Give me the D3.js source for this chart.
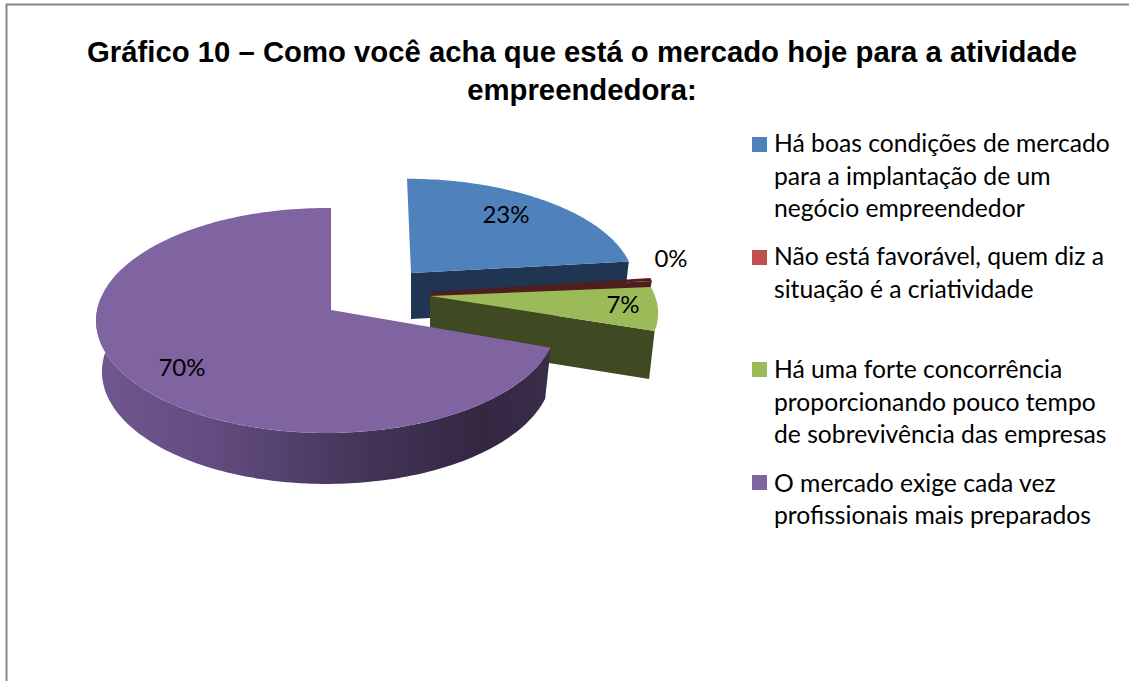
<!DOCTYPE html>
<html>
<head>
<meta charset="utf-8">
<script src="https://cdnjs.cloudflare.com/ajax/libs/d3/7.8.5/d3.min.js"></script>
<style>
html, body { margin: 0; padding: 0; background: #fff; overflow: hidden; }
text { fill: #000; }
.title { font-family: "Liberation Sans", Arial, sans-serif; font-weight: bold; font-size: 29.3px; }
.legend { font-family: Lato, sans-serif; font-size: 24.7px; }
.pct { font-family: Lato, sans-serif; font-size: 24px; }
</style>
</head>
<body>
<div id="viz"></div>
<script>
const titleLines = [
    "Gráfico 10 – Como você acha que está o mercado hoje para a atividade",
    "empreendedora:"
];
const categories = [
    ["Há boas condições de mercado", "para a implantação de um", "negócio empreendedor"],
    ["Não está favorável, quem diz a", "situação é a criatividade"],
    ["Há uma forte concorrência", "proporcionando pouco tempo", "de sobrevivência das empresas"],
    ["O mercado exige cada vez", "profissionais mais preparados"]
];
// labels show them rounded
const values = [23.2, 0.4, 6.8, 69.6];
const topColors = ["#4f81bd", "#c0504d", "#9bbb59", "#8064a2"];
const wallColors = ["#1f3552", "#4f1f1d", "#3f4a23", "#3b2e4e"];

const width = 1129;
const height = 681;

// one exploded slice: apex, radii, perspective and thickness
const sliceGeo = [
    { cx: 411, cy: 273, rx: 222, ry: 103, k: 0.093, m: 0.0, skew: -4, depth: 46 },
    { cx: 430, cy: 292, rx: 226, ry: 125, k: 0.093, m: 0.0, skew: -17, depth: 30 },
    { cx: 430, cy: 296, rx: 225, ry: 102, k: 0.093, m: 0.0, skew: -17, depth: 48 },
    { cx: 331, cy: 310, rx: 229.7, ry: 111.5, k: 0.093, m: 0.018, skew: 0, depth: 51 }
];
const labelPos = [[506, 223], [671, 267], [623, 313], [182, 376]];
const squareY = [137, 250, 362, 475];
const legendY = [152, 265, 378, 491.5];
const lineStep = 32.5;

const svg = d3.select("#viz").append("svg")
    .attr("width", width)
    .attr("height", height)
    .style("display", "block");

const defs = svg.append("defs");
const sideGrad = defs.append("linearGradient")
    .attr("id", "purpleSide")
    .attr("gradientUnits", "userSpaceOnUse")
    .attr("x1", 100).attr("x2", 550).attr("y1", 0).attr("y2", 0);
sideGrad.selectAll("stop")
    .data([[0, "#70578f"], [0.25, "#624c80"], [0.55, "#47375c"], [0.85, "#332741"], [1, "#3a2d4b"]])
    .join("stop")
        .attr("offset", d => d[0])
        .attr("stop-color", d => d[1]);

// frame
svg.append("path")
    .attr("d", "M6.5,681V4.5H1129")
    .attr("fill", "none")
    .attr("stroke", "#868686")
    .attr("stroke-width", 2);

svg.selectAll(".title")
    .data(titleLines)
    .join("text")
        .attr("class", "title")
        .attr("x", 582)
        .attr("text-anchor", "middle")
        .attr("y", (d, i) => 62 + i * 38)
        .text(d => d);

const pie = d3.pie().sort(null)(values);

// plane coordinates of the pie -> screen, with a bit of perspective
function project(g, a, r, low) {
    const u = r * Math.sin(a);
    const v = r * Math.cos(a);
    const w = 1 + g.k * v + g.m * u;
    const shrink = low ? 0.975 : 1;
    return [
        g.cx + (g.rx * u / w) * shrink + g.skew * v,
        g.cy - g.ry * v / w + (low ? g.depth : 0)
    ];
}

function rim(g, a0, a1, low) {
    const n = Math.max(2, Math.ceil(Math.abs(a1 - a0) / 0.02));
    return d3.range(n + 1).map(i => project(g, a0 + (a1 - a0) * i / n, 1, low));
}

const line = d3.line();
const chart = svg.append("g");

pie.forEach((p, i) => {
    const g = sliceGeo[i];
    const apex = project(g, 0, 0, false);
    const apexLow = project(g, 0, 0, true);
    const a0 = p.startAngle;
    const a1 = p.endAngle;
    const group = chart.append("g").attr("class", "slice");

    // cut wall on the clockwise end, it faces us for the right-hand slices
    if (i < 3) {
        group.append("path")
            .attr("d", line([apex, project(g, a1, 1, false), project(g, a1, 1, true), apexLow]) + "Z")
            .attr("fill", wallColors[i]);
    }
    // outer wall
    if (i === 3) {
        const top = rim(g, a0, 3 * Math.PI / 2 + 0.1, false);
        const low = rim(g, 3 * Math.PI / 2 + 0.1, a0, true);
        group.append("path")
            .attr("d", line(top.concat(low)) + "Z")
            .attr("fill", "url(#purpleSide)");
    }
    // top face, the 0% sliver only shows as its dark edge
    group.append("path")
        .attr("d", line([apex].concat(rim(g, a0, a1, false))) + "Z")
        .attr("fill", i === 1 ? wallColors[1] : topColors[i]);
});

svg.selectAll(".pct")
    .data(values)
    .join("text")
        .attr("class", "pct")
        .attr("x", (d, i) => labelPos[i][0])
        .attr("y", (d, i) => labelPos[i][1])
        .attr("text-anchor", "middle")
        .text(d => Math.round(d) + "%");

const legend = svg.selectAll(".legend")
    .data(categories)
    .join("g")
        .attr("class", "legend");

legend.append("rect")
    .attr("x", 752)
    .attr("y", (d, i) => squareY[i])
    .attr("width", 15)
    .attr("height", 15)
    .attr("fill", (d, i) => topColors[i]);

legend.each(function (d, i) {
    d3.select(this).selectAll("text")
        .data(d)
        .join("text")
            .attr("x", 774)
            .attr("y", (t, j) => legendY[i] + j * lineStep)
            .text(t => t);
});
</script>
</body>
</html>
